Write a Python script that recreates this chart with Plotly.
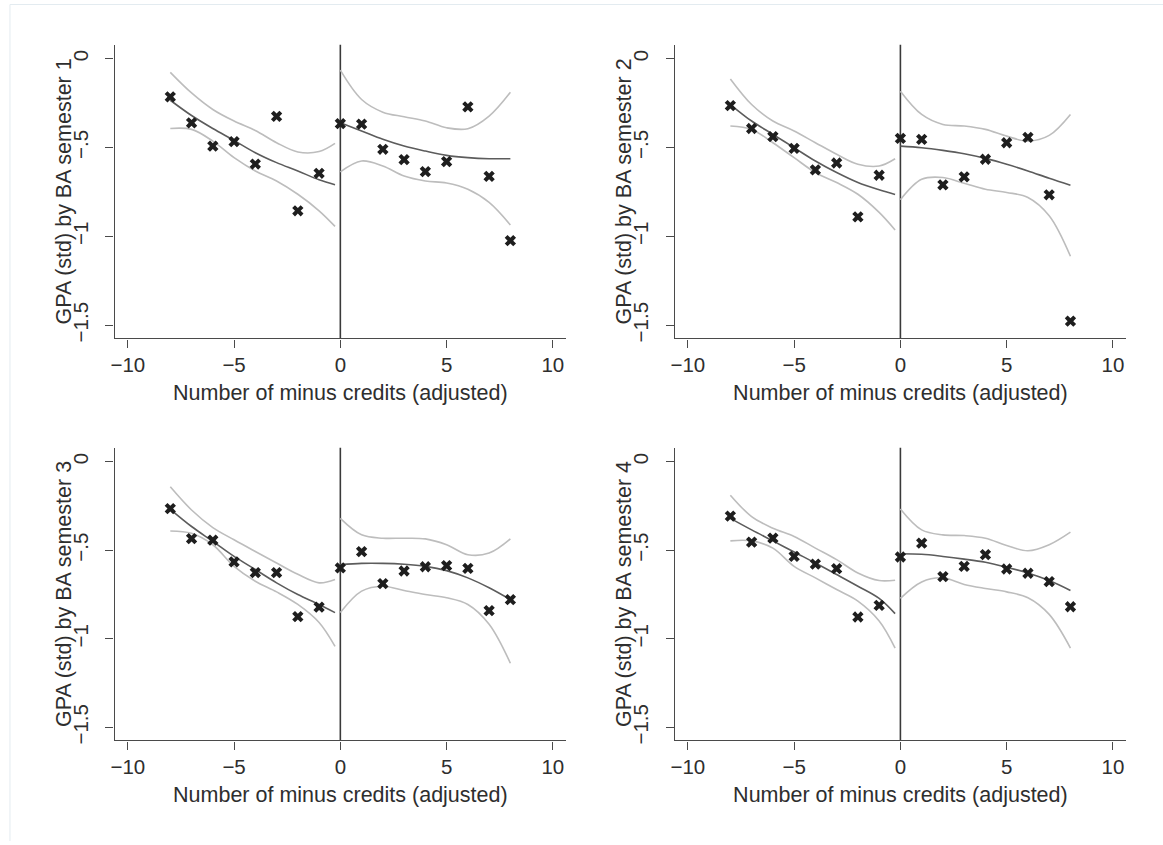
import plotly.graph_objects as go

# ---------------- data ----------------
x_pts = [-8, -7, -6, -5, -4, -3, -2, -1, 0, 1, 2, 3, 4, 5, 6, 7, 8]
left_x = [-8, -7, -6, -5, -4, -3, -2, -1, -0.25]
right_x = [0, 1, 2, 3, 4, 5, 6, 7, 8]

y_titles = ["GPA (std) by BA semester 1", "GPA (std) by BA semester 2",
            "GPA (std) by BA semester 3", "GPA (std) by BA semester 4"]
x_title = "Number of minus credits (adjusted)"

x_tickvals = [-10, -5, 0, 5, 10]
x_ticktext = ["\u221210", "\u22125", "0", "5", "10"]
y_tickvals = [0, -0.5, -1, -1.5]
y_ticktext = ["0", "\u2212.5", "\u22121", "\u22121.5"]

# semester 1
pts1 = [-0.215, -0.361, -0.492, -0.467, -0.593, -0.325, -0.856, -0.645,
        -0.366, -0.368, -0.510, -0.568, -0.636, -0.579, -0.271, -0.662, -1.024]
fitL1 = [-0.234, -0.320, -0.393, -0.460, -0.529, -0.585, -0.632, -0.682, -0.710]
upL1 = [-0.077, -0.193, -0.286, -0.351, -0.404, -0.473, -0.525, -0.523, -0.477]
loL1 = [-0.393, -0.398, -0.464, -0.557, -0.632, -0.688, -0.763, -0.856, -0.944]
fitR1 = [-0.361, -0.407, -0.454, -0.492, -0.520, -0.544, -0.557, -0.563, -0.563]
upR1 = [-0.065, -0.230, -0.301, -0.327, -0.351, -0.389, -0.394, -0.323, -0.189]
loR1 = [-0.637, -0.576, -0.604, -0.660, -0.688, -0.700, -0.735, -0.809, -0.936]

# semester 2
pts2 = [-0.264, -0.393, -0.439, -0.505, -0.626, -0.587, -0.890, -0.656,
        -0.449, -0.454, -0.710, -0.665, -0.566, -0.473, -0.443, -0.766, -1.477]
fitL2 = [-0.258, -0.351, -0.426, -0.501, -0.576, -0.641, -0.697, -0.738, -0.764]
upL2 = [-0.114, -0.258, -0.351, -0.407, -0.473, -0.538, -0.594, -0.604, -0.563]
loL2 = [-0.379, -0.398, -0.473, -0.557, -0.641, -0.697, -0.763, -0.865, -0.964]
fitR2 = [-0.492, -0.501, -0.516, -0.535, -0.561, -0.594, -0.632, -0.673, -0.712]
upR2 = [-0.183, -0.314, -0.370, -0.379, -0.398, -0.436, -0.464, -0.432, -0.314]
loR2 = [-0.794, -0.679, -0.669, -0.701, -0.735, -0.753, -0.781, -0.884, -1.112]

# semester 3
pts3 = [-0.265, -0.434, -0.443, -0.566, -0.626, -0.626, -0.875, -0.821,
        -0.600, -0.508, -0.688, -0.617, -0.593, -0.587, -0.602, -0.841, -0.779]
fitL3 = [-0.269, -0.366, -0.450, -0.535, -0.609, -0.684, -0.750, -0.806, -0.852]
upL3 = [-0.142, -0.273, -0.372, -0.441, -0.507, -0.572, -0.636, -0.684, -0.665]
loL3 = [-0.391, -0.404, -0.469, -0.591, -0.675, -0.735, -0.806, -0.908, -1.043]
fitR3 = [-0.581, -0.574, -0.574, -0.579, -0.591, -0.615, -0.656, -0.712, -0.779]
upR3 = [-0.320, -0.413, -0.432, -0.432, -0.436, -0.469, -0.525, -0.516, -0.436]
loR3 = [-0.852, -0.731, -0.703, -0.727, -0.750, -0.768, -0.806, -0.918, -1.138]

# semester 4
pts4 = [-0.307, -0.454, -0.432, -0.535, -0.578, -0.604, -0.877, -0.811,
        -0.538, -0.460, -0.649, -0.591, -0.525, -0.606, -0.630, -0.677, -0.819]
fitL4 = [-0.320, -0.385, -0.447, -0.510, -0.572, -0.637, -0.703, -0.772, -0.858]
upL4 = [-0.189, -0.310, -0.376, -0.422, -0.488, -0.553, -0.628, -0.671, -0.669]
loL4 = [-0.447, -0.447, -0.488, -0.591, -0.656, -0.722, -0.787, -0.899, -1.052]
fitR4 = [-0.520, -0.523, -0.535, -0.550, -0.568, -0.596, -0.628, -0.671, -0.727]
upR4 = [-0.267, -0.385, -0.413, -0.417, -0.432, -0.473, -0.503, -0.469, -0.398]
loR4 = [-0.772, -0.679, -0.656, -0.693, -0.716, -0.735, -0.768, -0.862, -1.052]

panels = [
    (pts1, fitL1, upL1, loL1, fitR1, upR1, loR1),
    (pts2, fitL2, upL2, loL2, fitR2, upR2, loR2),
    (pts3, fitL3, upL3, loL3, fitR3, upR3, loR3),
    (pts4, fitL4, upL4, loL4, fitR4, upR4, loR4),
]

# ---------------- layout geometry ----------------
W, H = 1163, 845
x_domains = [[111 / W, 564 / W], [673 / W, 1126 / W]]
y_domains = [[1 - 340 / H, 1 - 45 / H], [1 - 744 / H, 1 - 450 / H]]
ytitle_x = [60 / W, 622 / W]

FONT = "Liberation Sans, Arial, Helvetica, sans-serif"
TXT = "#2e2e2e"
AX = "#4a4a4a"
FIT = "#5c5c5c"
CI = "#bdbdbd"

fig = go.Figure()
layout_axes = {}
annotations = []
for i, (pts, fL, uL, lL, fR, uR, lR) in enumerate(panels):
    n = i + 1
    xa = "x" if n == 1 else f"x{n}"
    ya = "y" if n == 1 else f"y{n}"
    for xs, ys, col in [(left_x, uL, CI), (left_x, lL, CI), (right_x, uR, CI), (right_x, lR, CI),
                        (left_x, fL, FIT), (right_x, fR, FIT)]:
        fig.add_trace(go.Scatter(x=xs, y=ys, mode="lines", xaxis=xa, yaxis=ya,
                                 line=dict(color=col, width=1.6, shape="spline", smoothing=1.0),
                                 showlegend=False, hoverinfo="skip"))
    fig.add_trace(go.Scatter(x=x_pts, y=pts, mode="markers", xaxis=xa, yaxis=ya,
                             marker=dict(symbol="x", size=10, color="#1e1e1e",
                                         line=dict(width=0)),
                             showlegend=False))
    col = i % 2
    row = i // 2
    xkey = "xaxis" if n == 1 else f"xaxis{n}"
    ykey = "yaxis" if n == 1 else f"yaxis{n}"
    layout_axes[xkey] = dict(
        domain=x_domains[col], anchor=ya, range=[-10.62, 10.62],
        showgrid=False, zeroline=False, showline=True, linecolor=AX, linewidth=1.3,
        ticks="outside", ticklen=8, tickwidth=1.2, tickcolor=AX,
        tickvals=x_tickvals, ticktext=x_ticktext,
        tickfont=dict(family=FONT, size=20.5, color=TXT),
        title=dict(text=x_title, font=dict(family=FONT, size=21.5, color=TXT), standoff=9),
    )
    layout_axes[ykey] = dict(
        domain=y_domains[row], anchor=xa, range=[-1.574, 0.078],
        showgrid=False, zeroline=False, showline=True, linecolor=AX, linewidth=1.3,
        ticks="outside", ticklen=8, tickwidth=1.2, tickcolor=AX,
        tickvals=y_tickvals, ticktext=y_ticktext, tickangle=-90,
        ticklabelstandoff=9,
        tickfont=dict(family=FONT, size=20.5, color=TXT),
    )
    # y-axis title placed precisely
    annotations.append(dict(
        text=y_titles[i], xref="paper", yref="paper",
        x=ytitle_x[col], y=(y_domains[row][0] + y_domains[row][1]) / 2,
        xanchor="center", yanchor="middle", textangle=-90, showarrow=False,
        font=dict(family=FONT, size=21.5, color=TXT),
    ))
    # vertical reference line at the cutoff (x = 0)
    fig.add_shape(type="line", xref=xa, yref=f"{ya} domain", x0=0, x1=0, y0=0, y1=1,
                  line=dict(color="#3a3a3a", width=1.6), layer="below")

# faint outer frame (top and left edges)
fig.add_shape(type="line", xref="paper", yref="paper", x0=6 / W, x1=1, y0=1 - 4.5 / H, y1=1 - 4.5 / H,
              line=dict(color="#e3ebf0", width=1))
fig.add_shape(type="line", xref="paper", yref="paper", x0=6 / W, x1=6 / W, y0=0, y1=1 - 4.5 / H,
              line=dict(color="#e3ebf0", width=1))

fig.update_layout(
    width=W, height=H,
    margin=dict(l=0, r=0, t=0, b=0),
    paper_bgcolor="white", plot_bgcolor="white",
    font=dict(family=FONT, color=TXT),
    showlegend=False,
    annotations=annotations,
    **layout_axes,
)

fig.write_html("out.html")
